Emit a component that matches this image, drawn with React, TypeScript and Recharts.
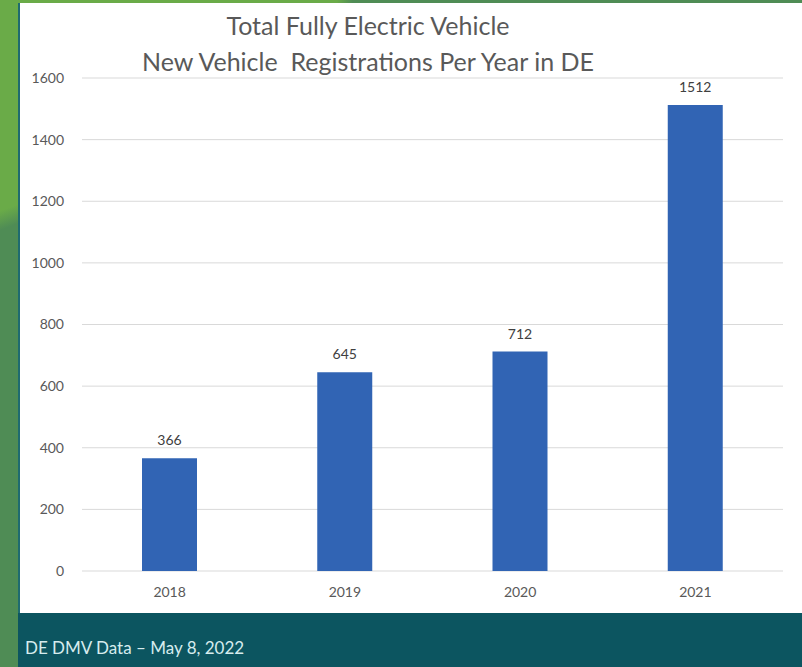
import React from "react";
import { BarChart, Bar, XAxis, YAxis, CartesianGrid, LabelList } from "recharts";

const years = ["2018", "2019", "2020", "2021"];
const registrations = [366, 645, 712, 1512];
const yTicks = [0, 200, 400, 600, 800, 1000, 1200, 1400, 1600];

const titleLines = ["Total Fully Electric Vehicle", "New Vehicle  Registrations Per Year in DE"];
const footer = "DE DMV Data – May 8, 2022";

const data = years.map((year, i) => ({ year, value: registrations[i] }));

const FONT = "Lato, 'Open Sans', sans-serif";

export default function App() {
  return (
    <div
      style={{
        position: "fixed",
        left: 0,
        top: 0,
        width: 802,
        height: 667,
        overflow: "hidden",
        background: "linear-gradient(160deg, #6aab48 0%, #6aab48 22%, #4f8c55 24%, #4f8c55 100%)",
        fontFamily: FONT,
      }}
    >
      {/* top strip: light green left, darker right */}
      <div
        style={{
          position: "absolute",
          left: 0,
          top: 0,
          width: 802,
          height: 4,
          background: "linear-gradient(90deg, #6aab48 0%, #6aab48 42%, #4f8c55 44%)",
        }}
      />
      {/* white panel */}
      <div
        style={{
          position: "absolute",
          left: 18,
          top: 3,
          width: 784,
          height: 610,
          background: "#ffffff",
          borderLeft: "2px solid #1f6b6f",
          boxSizing: "border-box",
        }}
      >
        <div
          style={{
            position: "absolute",
            left: 0,
            top: 4,
            width: 696,
            textAlign: "center",
            color: "#595959",
            fontSize: 25,
            lineHeight: "36px",
          }}
        >
          {titleLines.map((t) => (
            <div key={t} style={{ whiteSpace: "pre" }}>
              {t}
            </div>
          ))}
        </div>
        <div style={{ position: "absolute", left: -2, top: 0 }}>
          <BarChart
            width={784}
            height={609}
            data={data}
            margin={{ top: 75, right: 19, left: 0, bottom: 0 }}
          >
            <CartesianGrid vertical={false} stroke="#d9d9d9" />
            <XAxis
              dataKey="year"
              axisLine={false}
              tickLine={false}
              tickMargin={10}
              height={41}
              tick={{ fill: "#595959", fontSize: 14, fontFamily: FONT }}
            />
            <YAxis
              domain={[0, 1600]}
              ticks={yTicks}
              width={64}
              axisLine={false}
              tickLine={false}
              tickMargin={12}
              tick={{ fill: "#595959", fontSize: 14, fontFamily: FONT }}
            />
            <Bar dataKey="value" fill="#3164b4" barSize={55} isAnimationActive={false}>
              <LabelList
                dataKey="value"
                position="top"
                offset={13}
                fill="#404040"
                fontSize={14}
                fontFamily={FONT}
              />
            </Bar>
          </BarChart>
        </div>
      </div>
      {/* footer banner */}
      <div
        style={{
          position: "absolute",
          left: 18,
          top: 613,
          width: 784,
          height: 54,
          background: "#0c5560",
        }}
      >
        <div
          style={{
            position: "absolute",
            left: 7,
            top: 24,
            color: "#d6ecee",
            fontSize: 17,
          }}
        >
          {footer}
        </div>
      </div>
    </div>
  );
}
